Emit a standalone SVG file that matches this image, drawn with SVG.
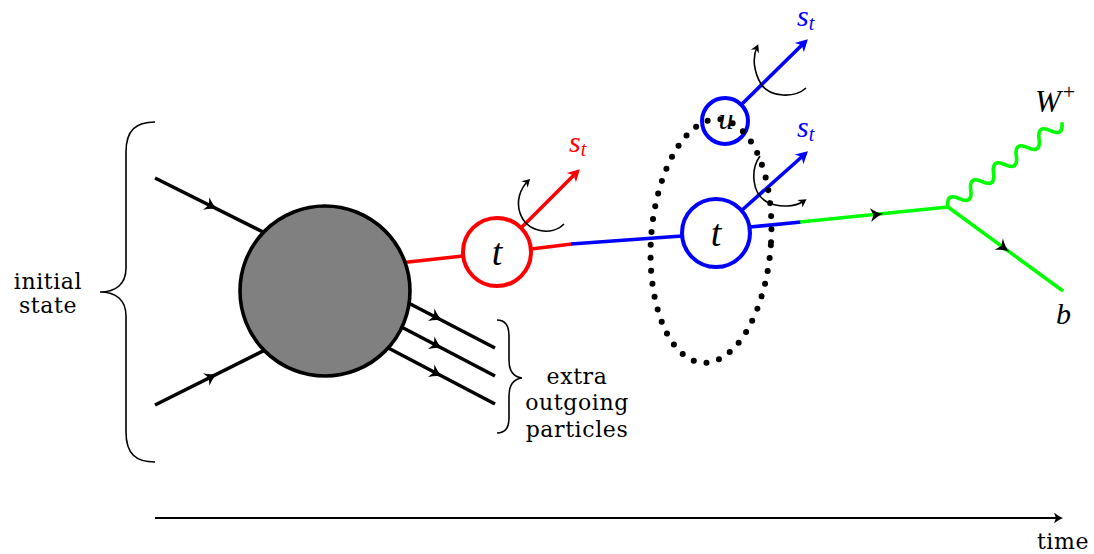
<svg xmlns="http://www.w3.org/2000/svg" width="1094" height="554" viewBox="0 0 1094 554">
<style>
.txt{font-family:"DejaVu Serif","Liberation Serif","Noto Serif",serif;font-size:22px;letter-spacing:0.6px;fill:#000}
.m{font-family:"Liberation Serif","DejaVu Serif",serif;font-style:italic;fill:#000}
.ln{fill:none;stroke-width:3.6;stroke-linecap:butt}
.br{fill:none;stroke:#000;stroke-width:1.6}
.spin{fill:none;stroke:#000;stroke-width:1.6}
</style>
<defs>
<path id="barb" d="M6.5,0 C2,-1 -2,-3.5 -6.5,-7 L-3.5,0 L-6.5,7 C-2,3.5 2,1 6.5,0 Z" fill="#000"/>
<marker id="aR" viewBox="-10 -8 16 16" refX="0" refY="0" markerWidth="16" markerHeight="16" markerUnits="userSpaceOnUse" orient="auto"><path d="M4,0 L-8,-6.5 L-4.5,0 L-8,6.5 Z" fill="#ff0000"/></marker>
<marker id="aB" viewBox="-10 -8 16 16" refX="0" refY="0" markerWidth="16" markerHeight="16" markerUnits="userSpaceOnUse" orient="auto"><path d="M4,0 L-8,-6.5 L-4.5,0 L-8,6.5 Z" fill="#0000ff"/></marker>
<marker id="aS" viewBox="-8 -6 12 12" refX="0" refY="0" markerWidth="12" markerHeight="12" markerUnits="userSpaceOnUse" orient="auto"><path d="M3,0 L-5,-4.5 L-2.5,0 L-5,4.5 Z" fill="#000"/></marker>
<marker id="aT" viewBox="-10 -7 14 14" refX="0" refY="0" markerWidth="14" markerHeight="14" markerUnits="userSpaceOnUse" orient="auto"><path d="M3,0 C0,-1 -3,-3 -6,-5.5 L-4,0 L-6,5.5 C-3,3 0,1 3,0 Z" fill="#000"/></marker>
</defs>

<g id="connectors">
  <line class="ln" x1="155" y1="178" x2="290" y2="245.5" stroke="#000"/>
  <line class="ln" x1="155" y1="405" x2="290" y2="337.5" stroke="#000"/>
  <use href="#barb" transform="translate(212,206.5) rotate(26.6)"/>
  <use href="#barb" transform="translate(212,376.5) rotate(-26.6)"/>
  <line class="ln" x1="395" y1="296" x2="495" y2="348" stroke="#000"/>
  <line class="ln" x1="390" y1="321" x2="495" y2="376" stroke="#000"/>
  <line class="ln" x1="375" y1="341" x2="495" y2="404" stroke="#000"/>
  <use href="#barb" transform="translate(437,317.8) rotate(27.5)"/>
  <use href="#barb" transform="translate(437,345.8) rotate(27.5)"/>
  <use href="#barb" transform="translate(437,373.8) rotate(27.5)"/>
  <line class="ln" x1="390" y1="264" x2="463" y2="256" stroke="#ff0000"/>
  <line class="ln" x1="531" y1="249" x2="572" y2="244" stroke="#ff0000"/>
  <line class="ln" x1="571" y1="244" x2="682" y2="236" stroke="#0000ff"/>
  <line class="ln" x1="750" y1="227" x2="801" y2="222" stroke="#0000ff"/>
  <line class="ln" x1="800" y1="222" x2="948" y2="207" stroke="#00ff00"/>
  <use href="#barb" transform="translate(877,214.5) rotate(-5.8)"/>
  <line class="ln" x1="948" y1="207" x2="1063" y2="291" stroke="#00ff00"/>
  <use href="#barb" transform="translate(1004,248) rotate(36.1)"/>
  <path class="ln" stroke="#00ff00" transform="translate(948,207) rotate(-36.7)" d="M0,0 q7.1,-13 14.2,0 t14.2,0 t14.2,0 t14.2,0 t14.2,0 t14.2,0 t14.2,0 t14.2,0 t14.2,0 t14.2,0"/>
  <line class="ln" x1="521" y1="228" x2="577" y2="172" stroke="#ff0000" stroke-width="4" marker-end="url(#aR)"/>
  <line class="ln" x1="741" y1="105" x2="805" y2="42" stroke="#0000ff" stroke-width="4" marker-end="url(#aB)"/>
  <line class="ln" x1="741" y1="211" x2="805" y2="154" stroke="#0000ff" stroke-width="4" marker-end="url(#aB)"/>
  <path class="spin" d="M564,224 C552,236 527,233 520,213 C516,201 520,189 528,181" marker-end="url(#aS)"/>
  <path class="spin" d="M806,88 C795,98 770,98 761,84 C754,72 752,58 757,47" marker-end="url(#aS)"/>
  <path class="spin" d="M760,156 C750,170 752,194 767,202 C779,208 795,207 804,201" marker-end="url(#aS)"/>
  <line x1="155" y1="518" x2="1060" y2="518" stroke="#000" stroke-width="2" marker-end="url(#aT)"/>
</g>

<g id="blob">
  <circle cx="325" cy="291" r="85" fill="#808080" stroke="#000" stroke-width="3.6"/>
</g>
<g id="top-red">
  <circle cx="497" cy="252" r="34" fill="#fff" stroke="#ff0000" stroke-width="4"/>
  <text class="m" x="497" y="265" font-size="38" text-anchor="middle">t</text>
</g>
<g id="top-blue">
  <circle cx="716" cy="233" r="34" fill="#fff" stroke="#0000ff" stroke-width="4"/>
  <text class="m" x="716" y="246" font-size="38" text-anchor="middle">t</text>
</g>
<g id="u-blue">
  <circle cx="725" cy="121" r="23" fill="#fff" stroke="#0000ff" stroke-width="4"/>
  <text class="m" x="726" y="129" font-size="30" text-anchor="middle">u</text>
</g>
<g id="loop">
  <ellipse cx="711" cy="241" rx="60" ry="122" transform="rotate(4 711 241)" fill="none" stroke="#000" stroke-width="6" stroke-linecap="round" stroke-dasharray="0 13"/>
</g>

<g id="labels">
  <text class="m" x="569" y="152" font-size="30" style="fill:#ff0000">s<tspan font-size="20" dy="4">t</tspan></text>
  <text class="m" x="797" y="26" font-size="30" style="fill:#0000ff">s<tspan font-size="20" dy="4">t</tspan></text>
  <text class="m" x="797" y="137" font-size="30" style="fill:#0000ff">s<tspan font-size="20" dy="4">t</tspan></text>
  <text class="m" x="1035" y="112" font-size="31">W<tspan font-size="22" dx="2" dy="-13" font-style="normal">+</tspan></text>
  <text class="m" x="1056" y="324" font-size="30">b</text>
</g>

<g id="initial-state">
  <path class="br" d="M155,122 C136,122 126,130 126,152 L126,268 C126,284 116,292 100,292 C116,292 126,300 126,316 L126,432 C126,454 136,462 155,462"/>
  <text class="txt" x="48" y="289" text-anchor="middle">initial</text>
  <text class="txt" x="48" y="313" text-anchor="middle">state</text>
</g>
<g id="extra-outgoing">
  <path class="br" d="M497,320 C505,320 509,326 509,336 L509,360 C509,372 514,377 522,378 C514,379 509,384 509,396 L509,418 C509,428 505,433 497,433"/>
  <text class="txt" x="577" y="384" text-anchor="middle">extra</text>
  <text class="txt" x="577" y="410" text-anchor="middle">outgoing</text>
  <text class="txt" x="577" y="437" text-anchor="middle">particles</text>
</g>
<g id="time">
  <text class="txt" x="1063" y="549" text-anchor="middle">time</text>
</g>
</svg>
